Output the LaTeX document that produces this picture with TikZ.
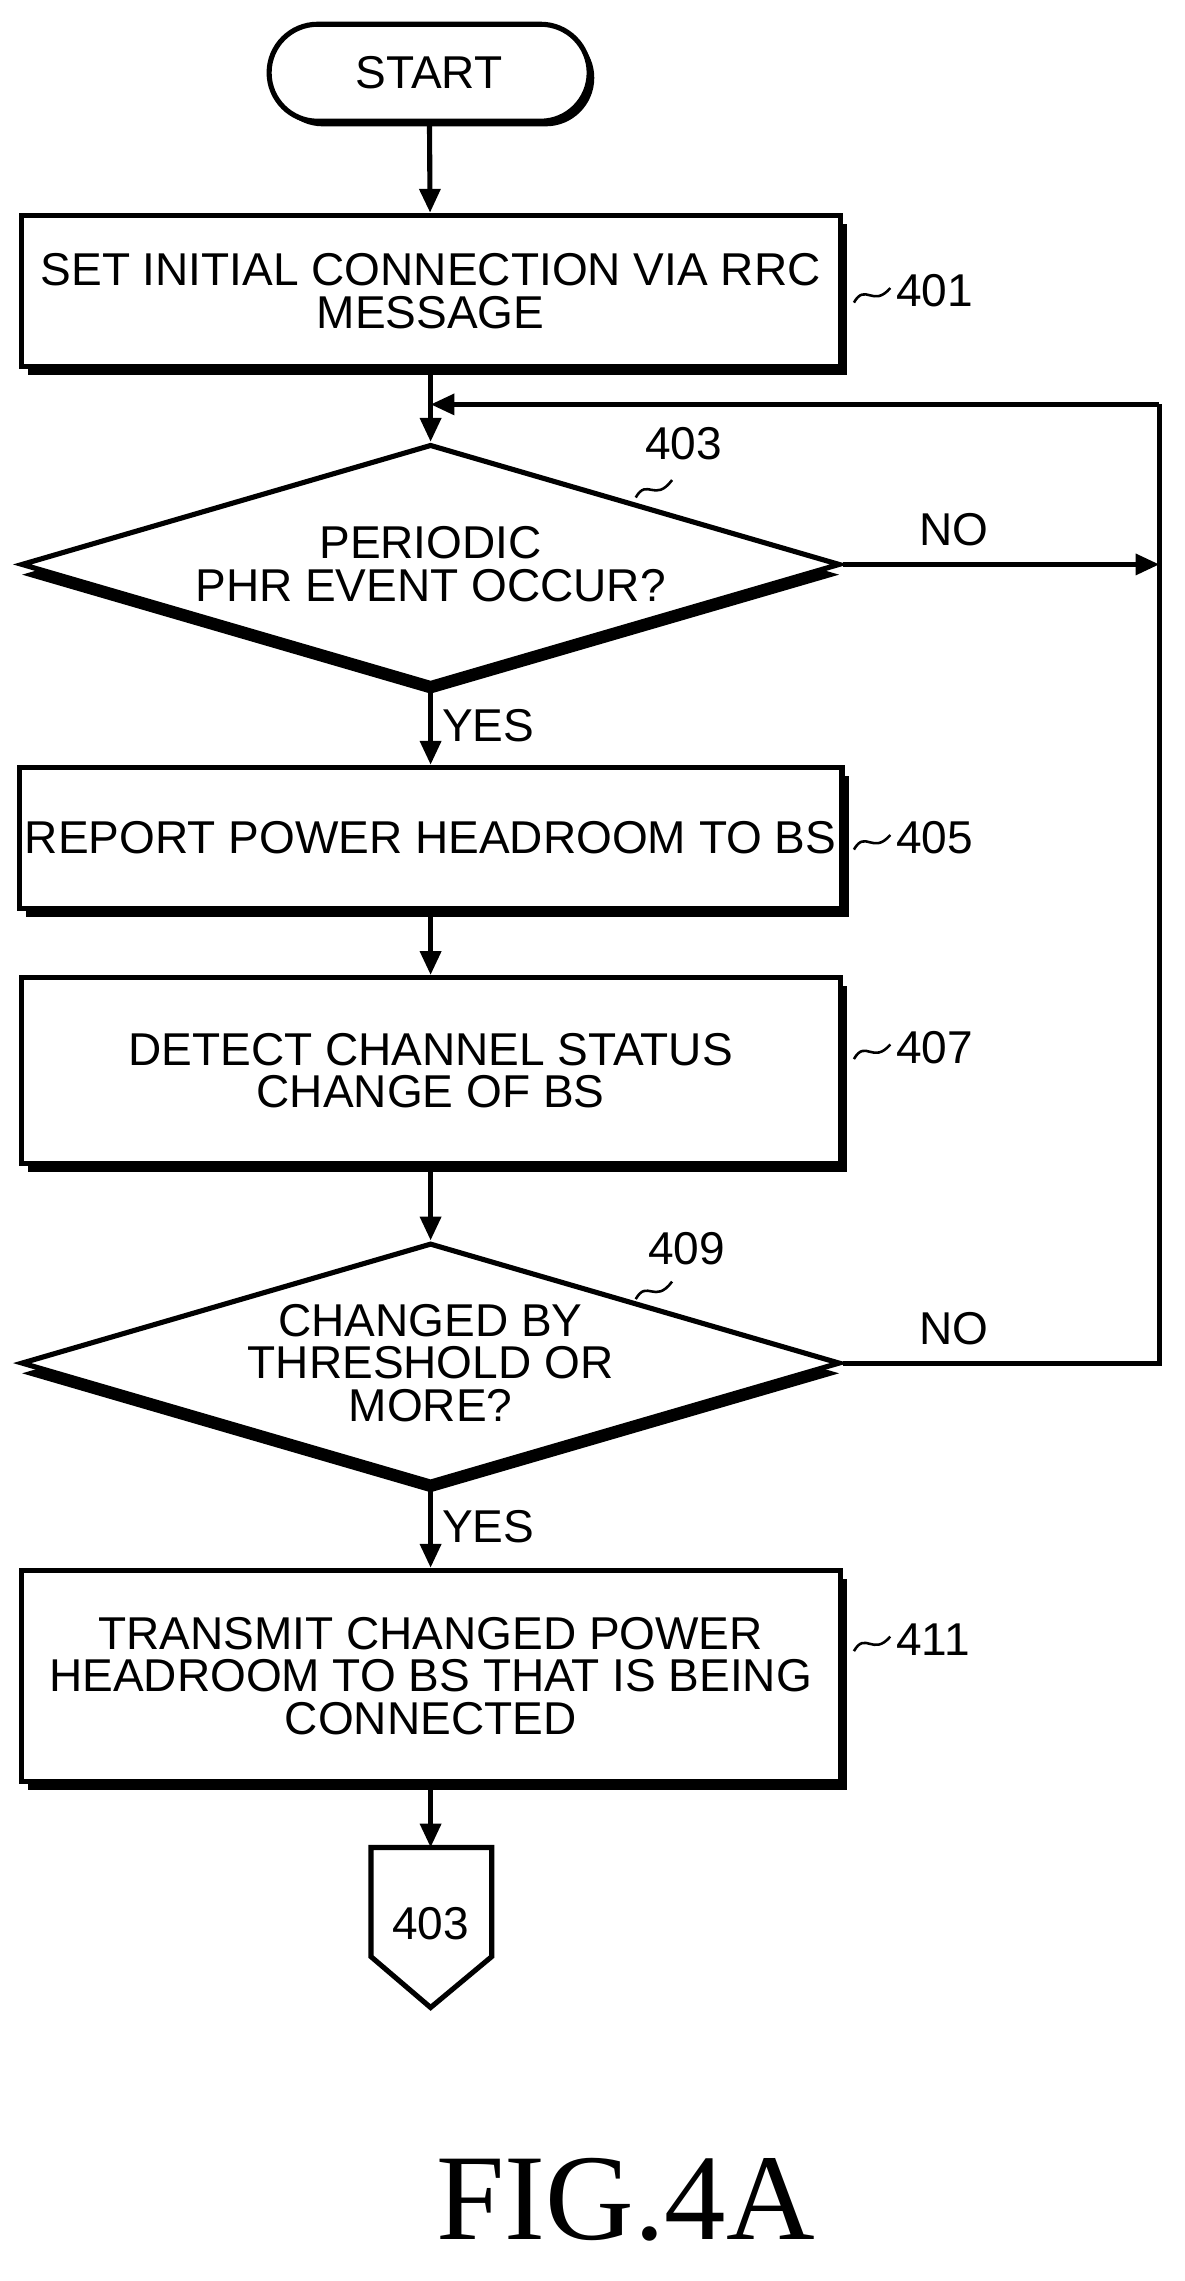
\documentclass[tikz,border=0pt]{standalone}
\usepackage{fontspec}
\setmainfont{Liberation Sans}
\newfontfamily\figfont{Liberation Serif}
\usetikzlibrary{shapes.geometric,shadows,arrows.meta}
\tikzset{
  flow/.style={line width=3pt, -{Triangle[length=14pt,width=12pt]}},
  box/.style={draw, line width=3pt, fill=white, minimum width=16.89cm, align=center,
    font=\fontsize{27}{31}\selectfont, drop shadow={shadow xshift=4pt, shadow yshift=-5pt, fill=black, opacity=1}},
  dia/.style={draw, diamond, line width=3pt, fill=white, inner sep=0pt, minimum width=16.89cm,
    minimum height=4.95cm, aspect=3.41, align=center, font=\fontsize{27}{31}\selectfont,
    drop shadow={shadow xshift=0pt, shadow yshift=-6pt, fill=black, opacity=1}},
  lbl/.style={font=\fontsize{27}{31}\selectfont},
  squig/.style={line width=1.5pt}
}
\begin{document}
\begin{tikzpicture}[x=0.03cm, y=-0.03cm]
\useasboundingbox (0,0) rectangle (814,1568);

% terminal
\node[draw, line width=3pt, rounded corners=1cm, minimum width=6.6cm, minimum height=2cm,
  drop shadow={shadow xshift=3pt, shadow yshift=-3pt, fill=black, opacity=1}, fill=white, lbl] (start) at (295,50) {START};

% boxes and decisions
\node[box, minimum height=3.12cm] (s401) at (296,200) {SET INITIAL CONNECTION VIA RRC\\[-6pt]MESSAGE};
\node[dia] (s403) at (296,388) {PERIODIC\\[-6pt]PHR EVENT OCCUR?};
\node[box, minimum height=2.91cm] (s405) at (296,576) {REPORT POWER HEADROOM TO BS};
\node[box, minimum height=3.84cm] (s407) at (296,736) {DETECT CHANNEL STATUS\\[-6pt]CHANGE OF BS};
\node[dia] (s409) at (296,937) {CHANGED BY\\[-6pt]THRESHOLD OR\\[-6pt]MORE?};
\node[box, minimum height=4.35cm] (s411) at (296,1152) {TRANSMIT CHANGED POWER\\[-6pt]HEADROOM TO BS THAT IS BEING\\[-6pt]CONNECTED};

% off-page connector
\coordinate (c1) at (255,1270);
\coordinate (c2) at (338,1270);
\coordinate (c3) at (338,1345);
\coordinate (c4) at (296,1380);
\coordinate (c5) at (255,1345);
\draw[line width=3pt] (c1) -- (c2) -- (c3) -- (c4) -- (c5) -- cycle;
\node[lbl] (off) at (296,1322) {403};

% loop line
\coordinate (top) at (296,278);
\coordinate (rtop) at (797,278);
\coordinate (rno) at (797,388);
\coordinate (rno2) at (797,937);

% connectors
\draw[flow] (start) -- (s401);
\draw[flow] (s401) -- (s403);
\draw[flow] (s403) -- node[lbl, right=2pt] {YES} (s405);
\draw[flow] (s405) -- (s407);
\draw[flow] (s407) -- (s409);
\draw[flow] (s409) -- node[lbl, right=2pt] {YES} (s411);
\draw[flow] (s411) -- (c1 -| off);
\draw[flow] (s403.east) -- node[lbl, above=6pt, pos=0.35] {NO} (rno);
\draw[line width=3pt] (s409.east) -- node[lbl, above=6pt, pos=0.35] {NO} (rno2) -- (rtop);
\draw[flow] (rtop) -- (top);

% step labels
\foreach \n/\y in {401/200, 405/576, 407/720, 411/1127}{
  \draw[squig] (587,\y+8) .. controls (595,\y-6) and (600,\y+12) .. (612,\y-2);
  \node[lbl, anchor=west] (n\n) at (612,\y) {\n};
}
\draw[squig] (437,342) .. controls (445,328) and (450,346) .. (462,330);
\node[lbl] (n403) at (470,305) {403};
\draw[squig] (437,893) .. controls (445,879) and (450,897) .. (462,881);
\node[lbl] (n409) at (472,858) {409};

% caption
\node[font=\figfont\fontsize{72}{80}\selectfont] (fig) at (430,1512) {FIG.4A};
\end{tikzpicture}
\end{document}
